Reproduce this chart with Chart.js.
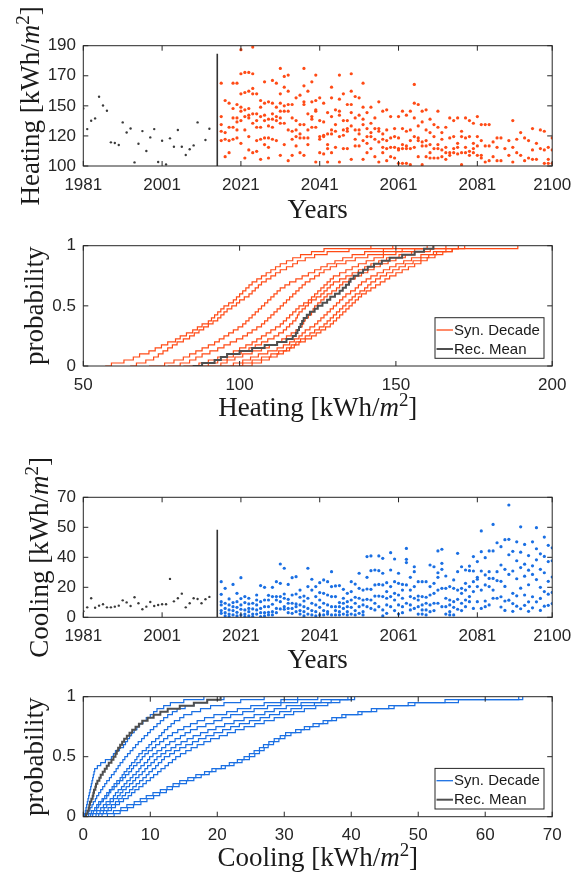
<!DOCTYPE html>
<html><head><meta charset="utf-8">
<script src="https://cdn.jsdelivr.net/npm/chart.js@4.4.1/dist/chart.umd.min.js"></script>
<style>
html,body{margin:0;padding:0;background:#fff;width:583px;height:878px;overflow:hidden;}
canvas{position:absolute;left:0;}
</style></head><body>
<canvas id="c1" width="583" height="226" style="top:0px"></canvas>
<canvas id="c2" width="583" height="200" style="top:226px"></canvas>
<canvas id="c3" width="583" height="245" style="top:426px"></canvas>
<canvas id="c4" width="583" height="207" style="top:671px"></canvas>
<script>
// ---------------- DATA ----------------
const yearTicks = [1981, 2001, 2021, 2041, 2061, 2081, 2100];
const heatTickPos = [100, 122.5, 145, 167.5, 190];
const heatTickLabels = ['100', '120', '150', '170', '190'];
const coolTickPos = [0, 17.5, 35, 52.5, 70];
const coolTickLabels = ['0', '20', '40', '50', '70'];
const probTicks = [0, 0.5, 1];
const probTickLabels = ['0', '0.5', '1'];
const heatCdfTicks = [50, 100, 150, 200];
const coolCdfTicks = [0, 10, 20, 30, 40, 50, 60, 70];
const legendLabels = ['Syn. Decade', 'Rec. Mean'];

const histYears = [1981,1982,1983,1984,1985,1986,1987,1988,1989,1990,1991,1992,1993,1994,1995,1996,1997,1998,1999,2000,2001,2002,2003,2004,2005,2006,2007,2008,2009,2010,2011,2012,2013];
const heatHist = [143.1,127.6,133.9,135.6,151.8,145.3,141.3,117.7,117.2,115.7,132.6,125.1,128.1,102.7,116.7,126.1,111.2,121.4,127.6,103.0,118.9,101.2,120.7,114.4,126.9,114.4,108.2,112.5,115.4,132.6,null,119.4,127.9];
const coolHist = [3.5,5.8,11.1,5.6,6.8,7.6,5.8,5.8,6.2,6.8,9.9,8.7,6.6,11.7,8.2,4.7,6.2,8.9,6.6,7.2,7.6,7.6,22.4,9.3,11.1,13.8,5.8,8.2,11.1,10.7,8.2,10.5,11.9];

const splitYear = 2015;
const heatSplit = [100, 184];
const coolSplit = [0, 51];

const synYears = [2016,2017,2018,2019,2020,2021,2022,2023,2024,2025,2026,2027,2028,2029,2030,2031,2032,2033,2034,2035,2036,2037,2038,2039,2040,2041,2042,2043,2044,2045,2046,2047,2048,2049,2050,2051,2052,2053,2054,2055,2056,2057,2058,2059,2060,2061,2062,2063,2064,2065,2066,2067,2068,2069,2070,2071,2072,2073,2074,2075,2076,2077,2078,2079,2080,2081,2082,2083,2084,2085,2086,2087,2088,2089,2090,2091,2092,2093,2094,2095,2096,2097,2098,2099,2100];

const heatSyn = [
[162,137,131,126,119],[149,125,120,107],[147,129,119,110],[162,143,136,129,120],[162,146,136,133,127,121],
[187,169,154,144,141,134,117],[170,155,142,137,127,106],[170,156,143,138,136,122,112],[189,169,158,154,139,132,110],[154,139,134,129,119,111],
[149,144,137,129,120,105],[163,147,138,134,121,116],[148,135,130,121,114,106],[164,147,139,135,129,120],[162,144,137,134,119],
[173,154,147,141,136,132,108],[167,159,145,141,132,116],[168,156,146,141,127,104],[146,136,126,120,108],[151,134,127,122,115],
[153,131,124,121,110],[173,160,148,146,131,121,108],[156,139,127,121,116],[163,148,137,135,129],[168,149,142,141,129,103],
[151,134,122,120,110],[147,133,123,122,109],[140,124,116,113,103],[159,151,137,127,124,110],[142,131,126,114],
[168,150,141,138,122,103],[154,134,127,123,113],[146,134,128,126,113],[169,156,146,140,130,105],[152,136,127,120,115],
[151,138,127,124,115],[162,144,135,131,119,105],[140,128,122,117,110],[144,132,125,122,113],[136,128,120,107],
[148,128,126,118,103],[141,124,120,114,110],[142,127,119,113,104],[137,121,114,107],[128,122,114,106],
[137,121,113,112,102],[141,128,116,113,102],[138,126,115,113,102],[141,127,119,113,101],[161,147,136,122,114],
[146,130,121,119,107],[141,133,118,115,101],[142,127,119,115,107],[135,125,116,110,106],[131,122,113,106],
[141,129,116,113,106],[125,120,112,107],[129,114,110,105],[136,121,110,108],[134,122,113,110],
[136,117,114,109],[126,122,110,101],[136,121,114,110],[134,122,111,108],[132,117,113,110],
[137,122,115,108],[131,119,108,106],[131,115,103],[131,115,104],[118,107],
[121,114,104],[121,104],[113],[119,108],[134,114,103],
[120,110],[125,108],[121,104],[119,106],[128,112,105],
[117,105],[127,113],[126,112,102],[114,105,102],[121,112,102]
];

const coolSyn = [
[20.8,13.4,9.1,7.2,3.9,2.3],[16.9,8.2,5.2,2.7,0.8],[10.7,7.2,4.3,1.9,0.4],[19.2,8.6,6.2,3.9,1.4],[14.0,9.1,5.8,2.9,0.8],
[23.1,10.9,7.2,4.7,1.4],[12.1,8.6,4.3,1.9,0.4],[11.1,7.8,5.2,3.3,0.8],[8.2,4.9,1.9,0.4],[13.0,10.1,7.2,4.3,1.9],
[18.5,9.1,5.2,2.7,0.4],[17.5,10.1,6.2,2.7,0.8],[12.8,10.1,6.2,2.9,1.4],[17.5,12.1,7.6,3.3,1.4],[20.8,12.1,10.1,5.2,2.7],
[31.1,19.8,12.1,9.1,4.9],[28.6,13.6,11.1,6.2,4.7],[19.2,10.5,8.2,5.2,2.7],[23.1,13.0,8.2,5.2,2.3],[23.7,13.6,7.8,6.2,3.3],
[15.9,11.7,7.2,3.9,1.9],[12.4,9.5,6.2,3.3,0.8],[28.6,17.9,11.1,5.2,1.9],[22.2,15.9,8.2,3.9,1.4],[17.9,12.1,7.2,3.3,0.8],
[20.2,14.4,10.1,5.8,1.4],[21.8,14.0,8.2,3.9,1.4],[20.8,13.0,7.2,3.3,1.9],[26.6,17.9,12.1,6.2,1.4],[18.3,12.1,6.2,3.9,1.4],
[18.5,8.6,6.2,3.3,1.4],[16.3,11.1,8.2,5.2,1.9],[14.0,9.1,6.2,3.3,1.4],[20.8,15.0,10.1,5.8,1.9],[19.4,11.7,8.2,3.9,1.4],
[25.7,16.9,11.1,6.2,2.3],[15.9,10.1,7.2,3.3,1.4],[35.4,23.3,16.5,10.5,6.2],[35.8,27.2,16.3,10.1,5.2],[27.6,18.9,12.4,8.2,4.3],
[35.8,27.2,19.2,12.4,6.2],[34.4,25.7,18.9,12.1,4.3,0.8],[20.2,15.0,11.1,7.2,2.3],[37.7,27.6,17.9,12.1,6.2],[34.0,20.8,14.0,10.1,3.9],
[25.7,19.8,13.0,7.2,1.9],[19.2,15.9,11.1,6.2,2.7],[40.2,33.8,31.9,18.9,8.2],[23.3,15.9,12.1,7.2,4.3],[29.5,26.6,17.9,11.1,5.2],
[20.8,12.4,10.1,6.2,1.9],[20.8,12.1,7.2,4.3,1.9],[20.8,11.7,8.2,4.3,1.4],[30.5,17.9,13.0,7.2,3.3],[29.5,19.8,14.0,8.2,3.9],
[38.7,26.0,23.3,15.9,8.2],[39.7,31.5,28.0,16.9,6.2],[24.1,16.9,11.1,6.2,1.9],[17.9,10.1,7.2,3.3,1.4],[21.8,16.9,9.1,5.8,1.4],
[37.3,26.6,15.9,10.5,4.7],[29.5,16.9,14.0,8.2,3.9],[27.6,19.8,15.9,10.1,6.2],[29.9,27.2,17.9,12.1,9.1],[35.4,27.0,20.8,15.0,5.2],
[32.5,23.3,22.2,17.9,9.1],[50.4,38.3,27.0,15.9,5.2],[34.8,24.7,18.9,9.5,6.2],[38.7,26.6,22.7,17.9,7.2],[54.2,38.7,22.7,15.9,11.1],
[43.5,26.6,21.4,11.1],[41.2,30.5,21.0,12.0,6.0],[45.3,28.0,18.0,9.5,4.0],[65.5,45.5,36.5,25.0,10.0],[38.5,27.0,14.0,8.0,3.5],
[44.0,33.0,22.5,12.5,6.5],[52.8,38.0,29.0,17.0,5.0],[42.5,31.0,24.0,13.0,7.0],[36.0,27.5,19.0,9.0,3.5],[44.0,30.0,25.0,12.0,5.5],
[52.3,40.0,33.5,22.0,9.0],[37.0,28.0,17.5,11.0,4.0],[46.8,35.5,26.0,15.0,6.5],[42.0,32.5,21.0,13.5,7.0],[40.5,33.0,23.5,14.5,8.0]
];

// CDF curves: value (x) reached at each probability level (y)
const probLevels = [0,0.025,0.05,0.075,0.1,0.125,0.15,0.175,0.2,0.225,0.25,0.275,0.3,0.325,0.35,0.375,0.4,0.425,0.45,0.475,0.5,0.525,0.55,0.575,0.6,0.625,0.65,0.675,0.7,0.725,0.75,0.775,0.8,0.825,0.85,0.875,0.9,0.925,0.95,0.975,1];
const heatRecMean = [85,88,92,94,96,100,104,108,112,115,117,118,118.5,119,119.5,120,120.5,121.5,122.5,124,125,126.5,128,129,130.5,132,133,134,135,135.5,136.5,138,139.5,141,143,145.5,148,152,156,159,162];
const heatDecades = [
[57,59,63,66,68,71,73,75,77,79.5,81,83,85,86.5,88,90,91,92,93,94,95,96.5,98,99,100,101,102,103,104,105.5,107,108.5,110,111.5,113,115,117,119.5,123,127,142],
[65,67,70,72.5,74,75.5,77,78.5,80,82,84,85.5,87,88.5,90,91.5,93,94,95,96,97.5,99,100,101.5,103,104,105,106,107,108.5,110,111.5,113,115,117,118.5,121,124,128,135,149],
[71,76,79,82,84,86,88,90,92,93.5,95,96.5,98,99.5,101,102,103,104,105,106,107,108,109,110,111,112,113,114.5,116,118,120,122,124,126,128,130.5,133,136,140,146,160],
[77,81,84,86,88,90.5,93,95,97,99,101,102.5,104,105.5,107,108,109,110,111,112,113,114,115,116,117,118,119,120,121,122.5,124,125.5,127,129,131,134,137,141,146,152,162],
[82,87,90,93,96,98,100,102,104,105.5,107,108.5,110,111.5,113,114,115,116,117,118,119,120.5,122,123,124,125,126,127,128,129,130,132,134,136,138,140.5,143,146,150,156,166],
[85,90,93,96,98,100.5,103,105,107,109,111,112.5,114,115,116,117,118,118.5,119,120,121,122,123,124.5,126,127,128,129,130,132,134,136,138,140,142,144.5,147,151,155,161,170],
[90,94,96,98.5,101,104,107,109.5,112,113.5,115,116.5,118,119,120,120.5,121,122,123,123.5,124,125,126,127,128,129.5,131,132,133,135,137,139,141,143,145,147.5,150,153,156,159,162],
[94,98,101,103.5,106,109,112,114,116,117.5,119,120,121,122.5,124,125,126,127,128,129,130,131,132,133,134,135.5,137,138,139,140.5,142,144,146,148,150,152.5,155,158,162,168,189],
[97,101,104,107,110,112.5,115,116.5,118,119.5,121,122.5,124,125.5,127,128,129,130,131,132,133,134,135,136,137,138.5,140,141,142,143.5,145,147,149,151,153,155.5,158,160.5,163,166,170],
[100,104,107,109.5,112,114,116,117.5,119,121,123,124.5,126,127.5,129,130,131,132,133,134,135,136,137,138,139,140.5,142,143.5,145,146.5,148,150,152,154,156,158,160,162.5,165,168,172]
];
const coolRecMean = [0.3,0.4,0.6,0.8,0.9,1.0,1.2,1.4,1.5,1.6,1.8,1.9,2.1,2.4,2.6,2.9,3.2,3.5,3.8,4.2,4.5,4.8,5.0,5.2,5.5,5.8,6.1,6.5,6.9,7.3,7.8,8.3,8.8,9.6,10.5,11.5,12.6,14.4,16.5,18.5,20.5];
const coolDecades = [
[0.1,0.2,0.3,0.4,0.5,0.6,0.7,0.8,0.9,1.0,1.1,1.2,1.3,1.4,1.5,1.6,1.7,2.1,2.6,3.3,4.2,4.5,4.8,5.4,6.0,6.3,6.6,6.9,7.2,7.6,8.0,8.4,8.9,9.4,10.0,10.5,11.0,12.0,13.0,15.0,18.0],
[0.3,0.5,0.8,1.0,1.3,1.5,1.8,2.0,2.3,2.6,2.9,3.2,3.5,3.9,4.2,4.6,4.9,5.2,5.5,5.9,6.2,6.6,7.0,7.4,7.8,8.2,8.7,9.1,9.6,10.0,10.5,11.0,11.5,12.0,12.6,13.3,14.0,15.2,16.5,18.5,21.0],
[0.5,0.8,1.2,1.7,2.0,2.3,2.8,3.2,3.5,3.9,4.3,4.6,5.0,5.5,5.8,6.1,6.5,6.9,7.2,7.7,8.0,8.3,8.8,9.4,9.8,10.2,10.8,11.3,11.7,12.1,12.6,13.1,13.6,14.4,15.0,16.2,17.5,19.0,21.0,23.5,27.0],
[0.8,1.1,1.5,2.0,2.3,2.6,3.0,3.5,3.8,4.1,4.6,5.0,5.4,5.9,6.3,6.8,7.2,7.5,8.0,8.5,8.8,9.2,9.7,10.3,10.8,11.4,12.0,12.6,13.3,14.1,15.0,16.0,17.0,18.1,19.5,21.4,23.0,25.0,27.0,29.5,32.0],
[1.0,1.4,2.0,2.6,3.0,3.4,4.0,4.5,4.8,5.2,5.7,6.1,6.5,7.0,7.4,7.9,8.3,8.6,9.1,9.6,9.9,10.4,11.0,11.7,12.3,12.9,13.7,14.5,15.2,16.0,17.0,18.3,19.5,20.7,22.0,23.8,25.5,27.5,29.5,32.0,35.0],
[1.2,1.9,2.5,3.1,3.5,4.0,4.5,5.1,5.5,5.9,6.4,6.9,7.4,7.8,8.3,8.8,9.2,9.6,10.1,10.6,11.0,11.6,12.3,13.1,13.8,14.6,15.5,16.4,17.5,18.6,19.8,21.1,22.5,24.0,25.5,27.1,28.5,30.3,32.5,35.5,39.5],
[1.5,2.3,3.0,3.7,4.2,4.8,5.3,5.8,6.3,6.9,7.4,7.9,8.4,8.9,9.4,9.8,10.3,10.8,11.2,11.7,12.1,12.9,13.6,14.4,15.3,16.3,17.2,18.3,19.5,20.8,22.0,23.3,24.8,26.4,27.8,29.3,31.0,32.6,34.5,37.0,40.0],
[2.0,2.8,3.5,4.2,4.8,5.4,6.0,6.7,7.2,7.7,8.3,8.9,9.4,10.0,10.5,11.1,11.6,12.2,12.7,13.3,13.8,14.5,15.3,16.1,17.0,18.0,19.0,20.3,21.5,22.7,24.0,25.6,27.0,28.5,30.0,31.4,33.0,34.7,36.5,38.3,40.5],
[2.5,3.6,4.5,5.6,6.5,7.6,8.5,9.4,10.4,11.5,12.5,13.4,14.4,15.6,16.8,18.1,19.2,20.6,21.8,23.0,24.0,24.8,25.5,26.3,26.9,27.7,28.5,29.4,30.2,31.7,33.0,34.3,35.8,37.1,38.6,41.0,43.0,45.6,48.5,54.0,65.0],
[3.5,4.6,5.5,6.6,7.5,8.6,9.5,10.5,11.4,12.4,13.3,14.3,15.4,16.5,17.6,18.8,19.8,21.2,22.5,23.7,24.8,25.6,26.3,27.0,27.6,28.4,29.2,30.1,31.0,32.5,33.8,35.2,36.5,37.8,39.2,41.6,43.8,46.4,49.5,56.0,65.6]
];

// ---------------- STYLE ----------------
const ORANGE = '#ff4b16';
const BLUE = '#1a6fe3';
const GREY_LINE = '#4f4f4f';
const HIST_DOT = '#3a3a3a';
const AX = '#262626';
const TXT = '#1a1a1a';
const SANS = '"Liberation Sans", Arial, Helvetica, sans-serif';
const SERIF = '"Liberation Serif", "Times New Roman", serif';
const TICK_FONT = {family: SANS, size: 17};
const TITLE_SIZE = 27;
const PLOT_LEFT = 83.3, PLOT_RIGHT = 552.2, W = 583;

const heatTitle = [{t:'Heating [kWh/'},{t:'m',it:true},{t:'2',sup:true},{t:']'}];
const coolTitle = [{t:'Cooling [kWh/'},{t:'m',it:true},{t:'2',sup:true},{t:']'}];
const yearsTitle = [{t:'Years'}];
const probTitle = [{t:'probability'}];

function runFont(r) {
  const s = r.sup ? TITLE_SIZE * 0.7 : TITLE_SIZE;
  return (r.it ? 'italic ' : '') + s + 'px ' + SERIF;
}
function drawRuns(ctx, runs, cx, by) {
  let w = 0;
  runs.forEach(r => { ctx.font = runFont(r); w += ctx.measureText(r.t).width; });
  let x = cx - w / 2;
  ctx.textAlign = 'left'; ctx.textBaseline = 'alphabetic'; ctx.fillStyle = TXT;
  runs.forEach(r => {
    ctx.font = runFont(r);
    ctx.fillText(r.t, x, r.sup ? by - TITLE_SIZE * 0.38 : by);
    x += ctx.measureText(r.t).width;
  });
}

const matlabPlugin = {
  id: 'matlab',
  afterDraw(chart, args, opts) {
    const {ctx, chartArea: a, scales} = chart;
    const xs = scales.x, ys = scales.y, L = 5;
    ctx.save();
    ctx.strokeStyle = AX; ctx.lineWidth = 1;
    ctx.beginPath();
    xs.ticks.forEach(t => { const p = xs.getPixelForValue(t.value);
      ctx.moveTo(p, a.bottom); ctx.lineTo(p, a.bottom - L); ctx.moveTo(p, a.top); ctx.lineTo(p, a.top + L); });
    ys.ticks.forEach(t => { const p = ys.getPixelForValue(t.value);
      ctx.moveTo(a.left, p); ctx.lineTo(a.left + L, p); ctx.moveTo(a.right, p); ctx.lineTo(a.right - L, p); });
    ctx.stroke();
    ctx.strokeRect(a.left, a.top, a.right - a.left, a.bottom - a.top);
    if (opts.legend) {
      const bw = 109, bh = 40.6;
      const bx = a.right - 8.2 - bw, by = a.bottom - 7.7 - bh;
      ctx.fillStyle = '#fff'; ctx.fillRect(bx, by, bw, bh);
      ctx.strokeStyle = AX; ctx.lineWidth = 1; ctx.strokeRect(bx, by, bw, bh);
      const items = [{c: opts.legend.color, w: 1.3}, {c: GREY_LINE, w: 2}];
      items.forEach((it, i) => {
        const yy = by + 12.3 + i * 19;
        ctx.strokeStyle = it.c; ctx.lineWidth = it.w;
        ctx.beginPath(); ctx.moveTo(bx + 1.5, yy); ctx.lineTo(bx + 18, yy); ctx.stroke();
        ctx.fillStyle = TXT; ctx.font = '15px ' + SANS; ctx.textAlign = 'left'; ctx.textBaseline = 'middle';
        ctx.fillText(legendLabels[i], bx + 19, yy + 0.5);
      });
    }
    if (opts.xTitle) drawRuns(ctx, opts.xTitle.runs, (a.left + a.right) / 2, opts.xTitle.base);
    if (opts.yTitle) {
      ctx.save();
      ctx.translate(opts.yTitle.baseX, (a.top + a.bottom) / 2);
      ctx.rotate(-Math.PI / 2);
      drawRuns(ctx, opts.yTitle.runs, 0, 0);
      ctx.restore();
    }
    ctx.restore();
  }
};

function axis(min, max, tickVals, labels, isX, size) {
  return {
    type: 'linear', min: min, max: max,
    afterBuildTicks: s => { s.ticks = tickVals.map(v => ({value: v})); },
    afterFit: s => { if (isX) s.height = size; else s.width = size; },
    ticks: { callback: (v, i) => labels[i], font: TICK_FONT, color: AX, padding: isX ? 8.8 : 7.3,
             autoSkip: false, maxRotation: 0, minRotation: 0 },
    grid: { display: false, drawTicks: false },
    border: { display: false }
  };
}

function makeChart(id, type, datasets, geo, xAx, yAx, pluginOpts) {
  return new Chart(document.getElementById(id), {
    type: type,
    data: { datasets: datasets },
    options: {
      responsive: false, animation: false, devicePixelRatio: 1,
      layout: { padding: { top: geo.plotTop - geo.top, right: W - PLOT_RIGHT, left: 0, bottom: 0 } },
      scales: { x: xAx, y: yAx },
      plugins: { legend: { display: false }, tooltip: { enabled: false }, matlab: pluginOpts },
      elements: { line: { tension: 0 } }
    },
    plugins: [matlabPlugin]
  });
}

function synPoints(vals) {
  const pts = [];
  synYears.forEach((yr, i) => vals[i].forEach(v => pts.push({x: yr, y: v})));
  return pts;
}
function histPoints(vals) {
  const pts = [];
  histYears.forEach((yr, i) => { if (vals[i] !== null) pts.push({x: yr, y: vals[i]}); });
  return pts;
}
function cdfPoints(vals) { return vals.map((v, i) => ({x: v, y: probLevels[i]})); }

// ---------- Panel 1: heating scatter ----------
const g1 = {top: 0, h: 226, plotTop: 45.7, plotBottom: 166};
makeChart('c1', 'scatter', [
  {type: 'line', data: [{x: splitYear, y: heatSplit[0]}, {x: splitYear, y: heatSplit[1]}], borderColor: '#333', borderWidth: 1.6, pointRadius: 0, showLine: true},
  {data: histPoints(heatHist), backgroundColor: HIST_DOT, borderWidth: 0, pointRadius: 1.2},
  {data: synPoints(heatSyn), backgroundColor: ORANGE, borderWidth: 0, pointRadius: 1.6}
], g1,
  axis(1981, 2100, yearTicks, yearTicks.map(String), true, g1.h - g1.plotBottom),
  axis(100, 190, heatTickPos, heatTickLabels, false, PLOT_LEFT),
  {xTitle: {runs: yearsTitle, base: 218 - g1.top}, yTitle: {runs: heatTitle, baseX: 39}});

// ---------- Panel 2: heating CDF ----------
const g2 = {top: 226, h: 200, plotTop: 245.7, plotBottom: 366};
const ds2 = [{label: legendLabels[1], data: cdfPoints(heatRecMean), borderColor: GREY_LINE, borderWidth: 2, pointRadius: 0, stepped: true, fill: false}];
heatDecades.forEach(c => ds2.push({label: legendLabels[0], data: cdfPoints(c), borderColor: ORANGE, borderWidth: 1.2, pointRadius: 0, stepped: true, fill: false}));
makeChart('c2', 'line', ds2, g2,
  axis(50, 200, heatCdfTicks, heatCdfTicks.map(String), true, g2.top + g2.h - g2.plotBottom),
  axis(0, 1, probTicks, probTickLabels, false, PLOT_LEFT),
  {xTitle: {runs: heatTitle, base: 416 - g2.top}, yTitle: {runs: probTitle, baseX: 43}, legend: {color: ORANGE}});

// ---------- Panel 3: cooling scatter ----------
const g3 = {top: 426, h: 245, plotTop: 497.3, plotBottom: 617.3};
makeChart('c3', 'scatter', [
  {type: 'line', data: [{x: splitYear, y: coolSplit[0]}, {x: splitYear, y: coolSplit[1]}], borderColor: '#333', borderWidth: 1.6, pointRadius: 0, showLine: true},
  {data: histPoints(coolHist), backgroundColor: HIST_DOT, borderWidth: 0, pointRadius: 1.2},
  {data: synPoints(coolSyn), backgroundColor: BLUE, borderWidth: 0, pointRadius: 1.6}
], g3,
  axis(1981, 2100, yearTicks, yearTicks.map(String), true, g3.top + g3.h - g3.plotBottom),
  axis(0, 70, coolTickPos, coolTickLabels, false, PLOT_LEFT),
  {xTitle: {runs: yearsTitle, base: 668 - g3.top}, yTitle: {runs: coolTitle, baseX: 48}});

// ---------- Panel 4: cooling CDF ----------
const g4 = {top: 671, h: 207, plotTop: 696.7, plotBottom: 816.7};
const ds4 = [{label: legendLabels[1], data: cdfPoints(coolRecMean), borderColor: GREY_LINE, borderWidth: 2, pointRadius: 0, stepped: true, fill: false}];
coolDecades.forEach(c => ds4.push({label: legendLabels[0], data: cdfPoints(c), borderColor: BLUE, borderWidth: 1.2, pointRadius: 0, stepped: true, fill: false}));
makeChart('c4', 'line', ds4, g4,
  axis(0, 70, coolCdfTicks, coolCdfTicks.map(String), true, g4.top + g4.h - g4.plotBottom),
  axis(0, 1, probTicks, probTickLabels, false, PLOT_LEFT),
  {xTitle: {runs: coolTitle, base: 866 - g4.top}, yTitle: {runs: probTitle, baseX: 43}, legend: {color: BLUE}});
</script>
</body></html>
